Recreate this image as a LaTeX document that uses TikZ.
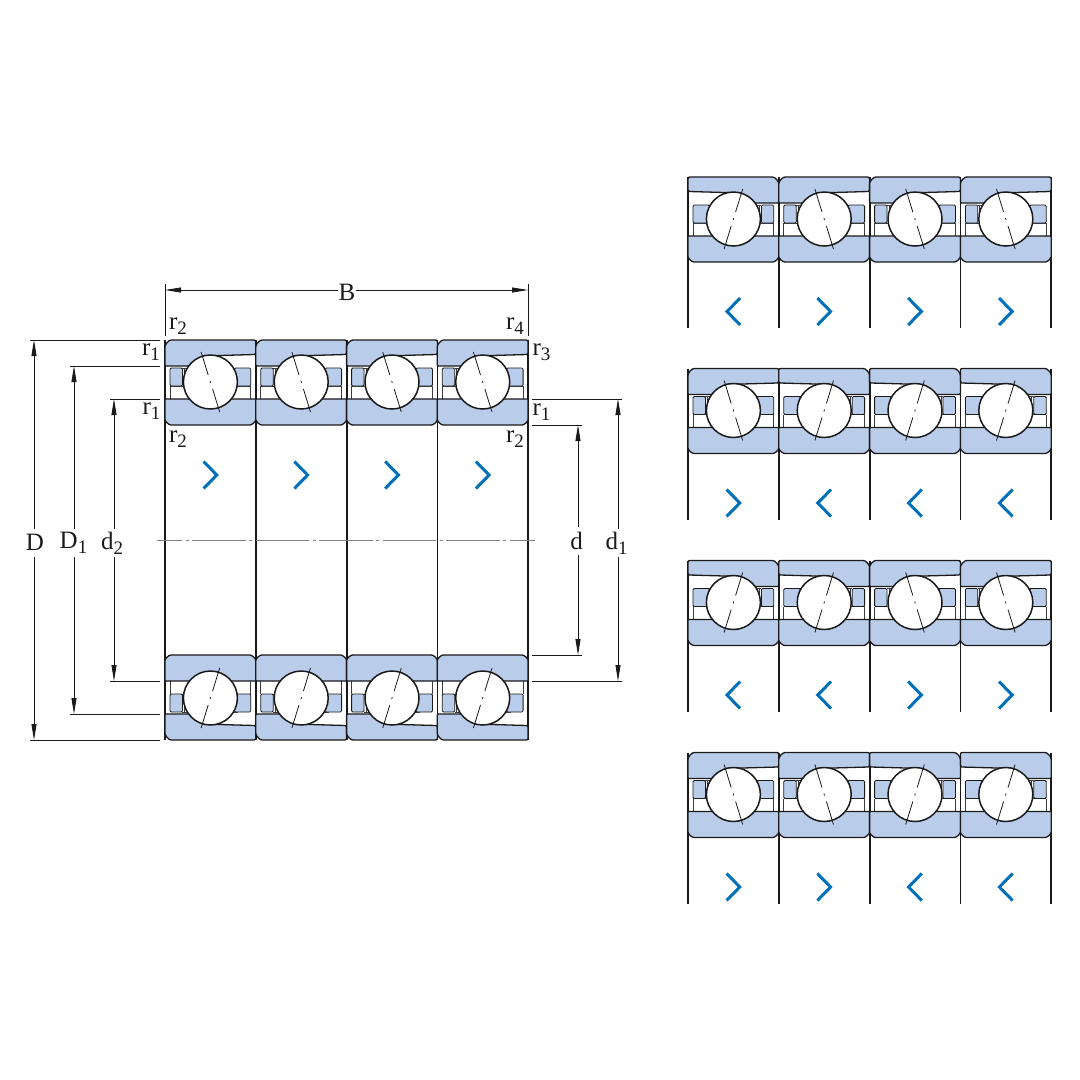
\documentclass[tikz,border=0pt]{standalone}
\usepackage{fontspec}
\setmainfont{Liberation Serif}
\usetikzlibrary{arrows.meta}
\definecolor{ringblue}{HTML}{B9CDEA}
\definecolor{arrowblue}{HTML}{0070BB}
\definecolor{ink}{HTML}{1A1A1A}
\tikzset{
  ringshape/.style={draw=ink,fill=ringblue,line width=1.3pt,line join=round},
  cagefill/.style={draw=ink,fill=ringblue,line width=0.8pt,rounded corners=1.2pt},
  cageline/.style={draw=ink!85,line width=0.8pt},
  ballshape/.style={draw=ink,fill=white,line width=1.5pt},
  contact/.style={draw=ink,line width=0.8pt},
  cellline/.style={draw=ink,line width=1.2pt},
  chevron/.style={draw=arrowblue,line width=3pt,line join=miter},
  leader/.style={draw=ink,line width=0.8pt},
  dimline/.style={draw=ink,line width=0.8pt,{Triangle[length=16pt,width=5pt]}-{Triangle[length=16pt,width=5pt]}},
  axisline/.style={draw=ink!55,line width=1pt,dash pattern=on 53.5pt off 3.5pt on 3pt off 3.5pt,dash phase=28.5pt},
  lab/.style={font=\fontsize{25}{25}\selectfont,text=ink,inner sep=0pt,fill=white,minimum width=18pt},
  labv/.style={lab,minimum height=28pt},
  labr/.style={font=\fontsize{25}{25}\selectfont,text=ink,inner sep=0pt}
}
\newcommand{\subn}[1]{\raisebox{-5pt}{\fontsize{19}{19}\selectfont #1}}
% one bearing section: centre x, y of outer face, x-mirror, y-mirror
\newcommand{\brg}[4]{%
\begin{scope}[shift={(#1,#2)},xscale=#3,yscale=#4]
  \path[cageline] (-40.4,46) -- (-40.4,59) (40.4,46) -- (40.4,59)
     (-40.4,46) -- (40.4,46) (-28,28) -- (28,28) (-26,28) -- (-26,46);
  \path[cagefill] (-40.4,28) rectangle (-28,46);
  \path[cagefill] (24,28) rectangle (40.4,46);
  \path[ringshape] (-45.4,7) .. controls (-45.4,5.5) and (-44.5,3.8) .. (-43.5,2.8)
     -- (-42.8,2.1) .. controls (-41.8,0.9) and (-40.5,0) .. (-39,0)
     -- (43.4,0) .. controls (44.8,0) and (45.4,0.6) .. (45.4,2)
     -- (45.4,13) .. controls (45.4,14) and (45,14.5) .. (44,14.5)
     -- (-8,16) -- (-15,26) -- (-44.4,26)
     .. controls (-45,26) and (-45.4,25.6) .. (-45.4,25) -- cycle;
  \path[ringshape] (-44.9,59) -- (44.9,59) .. controls (45.3,59) and (45.4,59.2) .. (45.4,59.6)
     -- (45.4,79.5) .. controls (45.4,81.5) and (41.5,85) .. (39.5,85)
     -- (-39.5,85) .. controls (-41.5,85) and (-45.4,81.5) .. (-45.4,79.5)
     -- (-45.4,59.6) .. controls (-45.4,59.2) and (-45.3,59) .. (-44.9,59) -- cycle;
  \path[ballshape] (0,42) circle (27);
  \path[contact] (-9.3,12) -- (-2.2,35) (-0.3,41) -- (0.3,43) (2.2,49) -- (9.3,72);
\end{scope}}
\newcommand{\chev}[3]{%
\begin{scope}[shift={(#1,#2)},xscale=#3]
  \path[chevron] (-6.8,-13.5) -- (6.4,0) -- (-6.8,13.5);
\end{scope}}
% one row of the right-hand column
\newcommand{\rrow}[5]{%
  \foreach \cx in {688,779,870,960.2,1051} {\path[cellline] (\cx,#1) -- (\cx,#1+151);}
  \brg{733.4}{#1}{#2}{1}\chev{733.4}{#1+134.5}{#2}
  \brg{824.2}{#1}{#3}{1}\chev{824.2}{#1+134.5}{#3}
  \brg{915}{#1}{#4}{1}\chev{915}{#1+134.5}{#4}
  \brg{1005.8}{#1}{#5}{1}\chev{1005.8}{#1+134.5}{#5}}
\begin{document}
\begin{tikzpicture}[x=1pt,y=-1pt]
\useasboundingbox (0,0) rectangle (1080,1080);
\fill[white] (0,0) rectangle (1080,1080);
% main drawing
\foreach \cx in {165,256,347,437.2,528} {\path[cellline] (\cx,340) -- (\cx,740);}
\foreach \cx in {210.4,301.2,392,482.7} {
  \brg{\cx}{340}{1}{1}
  \brg{\cx}{740}{1}{-1}
  \chev{\cx}{475}{1}
}
\coordinate (axA) at (157,540);
\coordinate (axB) at (535,540);
\path[axisline] (axA) -- (axB);
% leaders
\coordinate (lD1) at (30,340);   \coordinate (lD2) at (160,340);
\coordinate (lE1) at (70,366);   \coordinate (lE2) at (160,366);
\coordinate (lF1) at (110,399);  \coordinate (lF2) at (160,399);
\coordinate (lG1) at (110,681);  \coordinate (lG2) at (160,681);
\coordinate (lH1) at (70,714);   \coordinate (lH2) at (160,714);
\coordinate (lI1) at (30,740);   \coordinate (lI2) at (160,740);
\coordinate (rA1) at (532,399);  \coordinate (rA2) at (622,399);
\coordinate (rB1) at (532,425);  \coordinate (rB2) at (582,425);
\coordinate (rC1) at (532,655);  \coordinate (rC2) at (582,655);
\coordinate (rD1) at (532,681);  \coordinate (rD2) at (622,681);
\coordinate (tA1) at (165,284);  \coordinate (tA2) at (165,336);
\coordinate (tB1) at (528,284);  \coordinate (tB2) at (528,336);
\foreach \a/\b in {lD1/lD2,lE1/lE2,lF1/lF2,lG1/lG2,lH1/lH2,lI1/lI2,rA1/rA2,rB1/rB2,rC1/rC2,rD1/rD2,tA1/tA2,tB1/tB2}
  {\path[leader] (\a) -- (\b);}
% dimension lines
\coordinate (dBa) at (165,290); \coordinate (dBb) at (528,290);
\coordinate (dDa) at (34,340);  \coordinate (dDb) at (34,740);
\coordinate (dEa) at (74,366);  \coordinate (dEb) at (74,714);
\coordinate (dFa) at (114,399); \coordinate (dFb) at (114,681);
\coordinate (dGa) at (578,425); \coordinate (dGb) at (578,655);
\coordinate (dHa) at (618,399); \coordinate (dHb) at (618,681);
\foreach \a/\b in {dBa/dBb,dDa/dDb,dEa/dEb,dFa/dFb,dGa/dGb,dHa/dHb}
  {\path[dimline] (\a) -- (\b);}
\node[lab] (nB) at (347,292) {B};
\node[labv] (nD) at (35,542.5) {D};
\node[labv] (nD1) at (73.5,543) {D\subn{1}};
\node[labv] (nd2) at (112,543) {d\subn{2}};
\node[labv] (nd) at (576.5,541) {d};
\node[labv] (nd1) at (616.5,543) {d\subn{1}};
\node[labr] (r2a) at (178,326) {r\subn{2}};
\node[labr] (r1a) at (151,352) {r\subn{1}};
\node[labr] (r1b) at (151.5,411) {r\subn{1}};
\node[labr] (r2b) at (178,439) {r\subn{2}};
\node[labr] (r4a) at (515,326) {r\subn{4}};
\node[labr] (r3a) at (541.5,352) {r\subn{3}};
\node[labr] (r1c) at (541.5,412) {r\subn{1}};
\node[labr] (r2c) at (515,439) {r\subn{2}};
% right column
\rrow{177}{-1}{1}{1}{1}
\rrow{368.5}{1}{-1}{-1}{-1}
\rrow{560.5}{-1}{-1}{1}{1}
\rrow{752.5}{1}{1}{-1}{-1}
\end{tikzpicture}
\end{document}
